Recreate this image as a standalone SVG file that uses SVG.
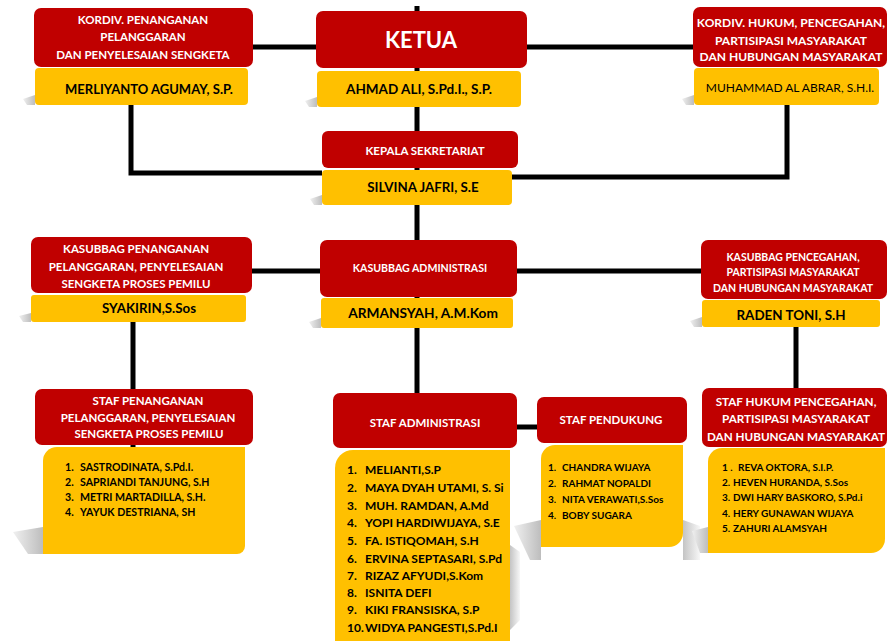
<svg xmlns="http://www.w3.org/2000/svg" width="888" height="641" viewBox="0 0 888 641">
<defs>
<linearGradient id="sh" x1="1" y1="0" x2="0" y2="0">
<stop offset="0" stop-color="#bdbdbd"/>
<stop offset="1" stop-color="#f0f0f0"/>
</linearGradient>
<linearGradient id="shr" x1="0" y1="0" x2="1" y2="0">
<stop offset="0" stop-color="#c4c4c4"/>
<stop offset="1" stop-color="#f7f7f7"/>
</linearGradient>
</defs>
<style>
.red{fill:#c00000;}
.yel{fill:#ffc000;}
.shd{fill:url(#sh);}
.shr{fill:url(#shr);}
.ln{stroke:#000;stroke-width:5;fill:none;}
text{font-family:Lato,"Liberation Sans",sans-serif;font-weight:bold;}
.rt{fill:#fff;text-anchor:middle;}
.yt{fill:#000;text-anchor:middle;}
.lt{fill:#000;}
</style>
<rect width="888" height="641" fill="#fff"/>

<g id="shadows">
<polygon class="shd" points="35,95 23,99 27,105 35,105"/>
<polygon class="shd" points="317,97 305,101 309,107 317,107"/>
<polygon class="shd" points="694,95 682,99 686,105 694,105"/>
<polygon class="shd" points="322,195 310,199 314,205 322,205"/>
<polygon class="shd" points="31,313 19,316 23,322 31,322"/>
<polygon class="shd" points="321,318 309,322 313,328 321,328"/>
<polygon class="shd" points="702,317 690,321 694,327 702,327"/>
<polygon class="shd" points="43,527 13,532 28,554 43,554"/>
<polygon class="shd" points="541,520 514,526 530,560 541,560"/>
<polygon class="shr" points="683,520 700,526 700,560 683,560"/>
<polygon class="shr" points="510,545 520,552 520,620 510,630"/>
<polygon class="shd" points="708,527 692,531 700,553 708,553"/>
</g>

<g id="connectors">
<line class="ln" x1="253" y1="47" x2="693" y2="47"/>
<line class="ln" x1="417" y1="6" x2="417" y2="395"/>
<polyline class="ln" points="131,105 131,173 322,173"/>
<polyline class="ln" points="787,105 787,177 512,177"/>
<line class="ln" x1="252" y1="271" x2="701" y2="271"/>
<line class="ln" x1="133" y1="322" x2="133" y2="448"/>
<line class="ln" x1="796" y1="327" x2="796" y2="390"/>
<line class="ln" x1="517" y1="427" x2="537" y2="427"/>
</g>

<g id="kordiv-penanganan">
<rect class="red" x="34" y="8" width="219" height="59" rx="7"/>
<text class="rt" font-size="11.5" x="143" y="24">KORDIV. PENANGANAN</text>
<text class="rt" font-size="11.5" x="143" y="41">PELANGGARAN</text>
<text class="rt" font-size="11.5" x="143" y="59">DAN PENYELESAIAN SENGKETA</text>
<rect class="yel" x="35" y="68" width="213" height="37" rx="4"/>
<text class="yt" font-size="13" x="149" y="94">MERLIYANTO AGUMAY, S.P.</text>
</g>

<g id="ketua">
<rect class="red" x="316" y="11" width="211" height="57" rx="7"/>
<text class="rt" font-size="22" x="421" y="48">KETUA</text>
<rect class="yel" x="317" y="71" width="204" height="36" rx="4"/>
<text class="yt" font-size="13.5" x="419" y="94">AHMAD ALI, S.Pd.I., S.P.</text>
</g>

<g id="kordiv-hukum">
<rect class="red" x="693" y="7" width="194" height="60" rx="7"/>
<text class="rt" font-size="12" x="791" y="27">KORDIV. HUKUM, PENCEGAHAN,</text>
<text class="rt" font-size="12" x="791" y="45">PARTISIPASI MASYARAKAT</text>
<text class="rt" font-size="12" x="791" y="61">DAN HUBUNGAN MASYARAKAT</text>
<rect class="yel" x="694" y="68" width="185" height="37" rx="4"/>
<text class="yt" font-size="12" style="font-weight:normal" x="790" y="92">MUHAMMAD AL ABRAR, S.H.I.</text>
</g>

<g id="kepala-sekretariat">
<rect class="red" x="322" y="131" width="196" height="37" rx="6"/>
<text class="rt" font-size="11.5" x="425" y="155">KEPALA SEKRETARIAT</text>
<rect class="yel" x="322" y="170" width="190" height="35" rx="4"/>
<text class="yt" font-size="13.3" x="423" y="192">SILVINA JAFRI, S.E</text>
</g>

<g id="kasubbag-penanganan">
<rect class="red" x="31" y="237" width="221" height="56" rx="7"/>
<text class="rt" font-size="11.5" x="136" y="253">KASUBBAG PENANGANAN</text>
<text class="rt" font-size="11.5" x="136" y="271">PELANGGARAN, PENYELESAIAN</text>
<text class="rt" font-size="11.5" x="136" y="288">SENGKETA PROSES PEMILU</text>
<rect class="yel" x="31" y="295" width="215" height="27" rx="3"/>
<text class="yt" font-size="13.3" x="149" y="313">SYAKIRIN,S.Sos</text>
</g>

<g id="kasubbag-administrasi">
<rect class="red" x="320" y="240" width="197" height="57" rx="7"/>
<text class="rt" font-size="10.6" x="420" y="272">KASUBBAG ADMINISTRASI</text>
<rect class="yel" x="321" y="298" width="192" height="30" rx="3"/>
<text class="yt" font-size="13.7" x="423" y="318">ARMANSYAH, A.M.Kom</text>
</g>

<g id="kasubbag-pencegahan">
<rect class="red" x="701" y="240" width="186" height="59" rx="7"/>
<text class="rt" font-size="10.5" x="793" y="261">KASUBBAG PENCEGAHAN,</text>
<text class="rt" font-size="10.5" x="793" y="276">PARTISIPASI MASYARAKAT</text>
<text class="rt" font-size="10.5" x="793" y="292">DAN HUBUNGAN MASYARAKAT</text>
<rect class="yel" x="702" y="300" width="178" height="27" rx="3"/>
<text class="yt" font-size="13.4" x="791" y="320">RADEN TONI, S.H</text>
</g>

<g id="staf-penanganan">
<rect class="red" x="35" y="389" width="218" height="56" rx="7"/>
<text class="rt" font-size="11.5" x="148" y="405">STAF PENANGANAN</text>
<text class="rt" font-size="11.5" x="148" y="422">PELANGGARAN, PENYELESAIAN</text>
<text class="rt" font-size="11.5" x="149" y="438">SENGKETA PROSES PEMILU</text>
<path class="yel" d="M57,447 H245 V546 A8,8 0 0 1 237,554 H43 V461 A14,14 0 0 1 57,447 Z"/>
<g class="lt" font-size="10.6">
<text x="65" y="471">1.</text><text x="80" y="471">SASTRODINATA, S.Pd.I.</text>
<text x="65" y="486">2.</text><text x="80" y="486">SAPRIANDI TANJUNG, S.H</text>
<text x="65" y="501">3.</text><text x="80" y="501">METRI MARTADILLA, S.H.</text>
<text x="65" y="516">4.</text><text x="80" y="516">YAYUK DESTRIANA, SH</text>
</g>
</g>

<g id="staf-administrasi">
<rect class="red" x="333" y="393" width="184" height="55" rx="7"/>
<text class="rt" font-size="11.5" x="425" y="427">STAF ADMINISTRASI</text>
<path class="yel" d="M353,450 H510 V660 H335 V468 A18,18 0 0 1 353,450 Z"/>
<g class="lt" font-size="12">
<text x="347" y="474">1.</text><text x="365" y="474">MELIANTI,S.P</text>
<text x="347" y="492">2.</text><text x="365" y="492">MAYA DYAH UTAMI, S. Si</text>
<text x="347" y="510">3.</text><text x="365" y="510">MUH. RAMDAN, A.Md</text>
<text x="347" y="527">4.</text><text x="365" y="527">YOPI HARDIWIJAYA, S.E</text>
<text x="347" y="545">5.</text><text x="365" y="545">FA. ISTIQOMAH, S.H</text>
<text x="347" y="563">6.</text><text x="365" y="563">ERVINA SEPTASARI, S.Pd</text>
<text x="347" y="580">7.</text><text x="365" y="580">RIZAZ AFYUDI,S.Kom</text>
<text x="347" y="597">8.</text><text x="365" y="597">ISNITA DEFI</text>
<text x="347" y="614">9.</text><text x="365" y="614">KIKI FRANSISKA, S.P</text>
<text x="347" y="632">10.</text><text x="365" y="632">WIDYA PANGESTI,S.Pd.I</text>
</g>
</g>

<g id="staf-pendukung">
<rect class="red" x="537" y="397" width="150" height="46" rx="7"/>
<text class="rt" font-size="11.5" x="611" y="424">STAF PENDUKUNG</text>
<path class="yel" d="M555,445 H683 V533 A14,14 0 0 1 669,547 H541 V459 A14,14 0 0 1 555,445 Z"/>
<g class="lt" font-size="10">
<text x="548" y="471">1.</text><text x="562" y="471">CHANDRA WIJAYA</text>
<text x="548" y="487">2.</text><text x="562" y="487">RAHMAT NOPALDI</text>
<text x="548" y="503">3.</text><text x="562" y="503">NITA VERAWATI,S.Sos</text>
<text x="548" y="519">4.</text><text x="562" y="519">BOBY SUGARA</text>
</g>
</g>

<g id="staf-hukum">
<rect class="red" x="702" y="388" width="185" height="59" rx="7"/>
<text class="rt" font-size="11.7" x="796" y="406">STAF HUKUM PENCEGAHAN,</text>
<text class="rt" font-size="11.7" x="796" y="423">PARTISIPASI MASYARAKAT</text>
<text class="rt" font-size="11.7" x="796" y="441">DAN HUBUNGAN MASYARAKAT</text>
<path class="yel" d="M722,448 H885 V539 A14,14 0 0 1 871,553 H708 V462 A14,14 0 0 1 722,448 Z"/>
<g class="lt" font-size="10">
<text x="722" y="471">1 .</text><text x="738" y="471">REVA OKTORA, S.I.P.</text>
<text x="722" y="486">2.</text><text x="733" y="486">HEVEN HURANDA, S.Sos</text>
<text x="722" y="501">3.</text><text x="733" y="501">DWI HARY BASKORO, S.Pd.i</text>
<text x="722" y="517">4.</text><text x="733" y="517">HERY GUNAWAN WIJAYA</text>
<text x="722" y="532">5.</text><text x="733" y="532">ZAHURI ALAMSYAH</text>
</g>
</g>
</svg>
